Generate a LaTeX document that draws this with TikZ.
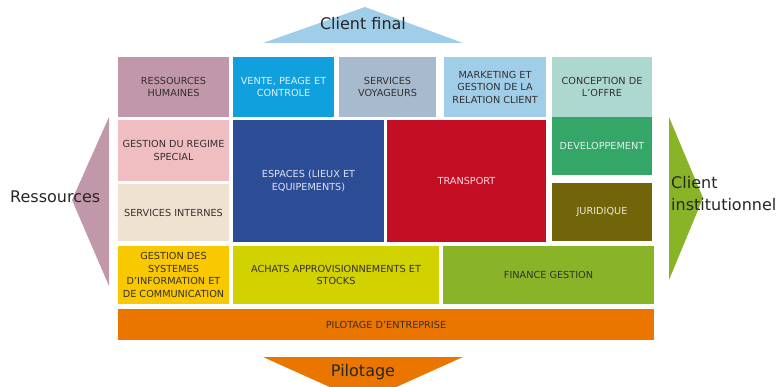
\documentclass[tikz,border=0pt]{standalone}
\usepackage{fontspec}
\setmainfont{DejaVu Sans}

% Couleurs des blocs
\definecolor{rh}{RGB}{193,151,170}
\definecolor{vente}{RGB}{16,160,222}
\definecolor{voyageurs}{RGB}{168,186,206}
\definecolor{marketing}{RGB}{160,206,232}
\definecolor{conception}{RGB}{172,216,208}
\definecolor{regime}{RGB}{240,190,192}
\definecolor{internes}{RGB}{240,226,208}
\definecolor{espaces}{RGB}{44,76,150}
\definecolor{transport}{RGB}{196,14,36}
\definecolor{devel}{RGB}{52,166,104}
\definecolor{juridique}{RGB}{114,100,8}
\definecolor{sysinfo}{RGB}{250,200,0}
\definecolor{achats}{RGB}{210,210,0}
\definecolor{finance}{RGB}{138,180,40}
\definecolor{pilot}{RGB}{234,118,0}
\definecolor{texte}{RGB}{52,48,48}

\begin{document}
\begin{tikzpicture}[x=1pt,y=-1pt,
  bloc/.style={rectangle,inner sep=0pt,align=center,text=texte,
    font=\fontsize{9.7}{12.5}\selectfont},
  fonce/.style={text=white,text opacity=0.85},
  titre/.style={inner sep=0pt,text=black!85,font=\fontsize{16}{22}\selectfont}]
\useasboundingbox (0,0) rectangle (783,387);

% Fleches exterieures
\fill[marketing] (263,43) -- (365,7) -- (463,43) -- cycle;
\fill[rh] (109,117) -- (72,200) -- (109,286) -- cycle;
\fill[finance] (669,117) -- (703,198) -- (669,280) -- cycle;
\fill[pilot] (263,357) -- (463,357) -- (363,402) -- cycle;

% Ligne 1
\node[bloc,fill=rh,minimum width=111pt,minimum height=60pt] (rh) at (173.5,87) {RESSOURCES\\HUMAINES};
\node[bloc,fonce,fill=vente,minimum width=101pt,minimum height=60pt] (vente) at (283.5,87) {VENTE, PEAGE ET\\CONTROLE};
\node[bloc,fill=voyageurs,minimum width=97pt,minimum height=60pt] (voyageurs) at (387.5,87) {SERVICES\\VOYAGEURS};
\node[bloc,fill=marketing,minimum width=102pt,minimum height=60pt] (marketing) at (495,87) {MARKETING ET\\GESTION DE LA\\RELATION CLIENT};
\node[bloc,fill=conception,minimum width=100pt,minimum height=60pt] (conception) at (602,87) {CONCEPTION DE\\L'OFFRE};

% Ligne 2
\node[bloc,fill=regime,minimum width=111pt,minimum height=61pt] (regime) at (173.5,150.5) {GESTION DU REGIME\\SPECIAL};
\node[bloc,fill=internes,minimum width=111pt,minimum height=57pt] (internes) at (173.5,212.5) {SERVICES INTERNES};
\node[bloc,fonce,fill=espaces,minimum width=151pt,minimum height=122pt] (espaces) at (308.5,181) {ESPACES (LIEUX ET\\EQUIPEMENTS)};
\node[bloc,fonce,fill=transport,minimum width=159pt,minimum height=122pt] (transport) at (466.5,181) {TRANSPORT};
\node[bloc,fonce,fill=devel,minimum width=100pt,minimum height=58pt] (devel) at (602,146) {DEVELOPPEMENT};
\node[bloc,fonce,fill=juridique,minimum width=100pt,minimum height=58pt] (juridique) at (602,212) {JURIDIQUE};

% Ligne 3
\node[bloc,fill=sysinfo,minimum width=111pt,minimum height=58pt] (sysinfo) at (173.5,275) {GESTION DES\\SYSTEMES\\D'INFORMATION ET\\DE COMMUNICATION};
\node[bloc,fill=achats,minimum width=206pt,minimum height=58pt] (achats) at (336,275) {ACHATS APPROVISIONNEMENTS ET\\STOCKS};
\node[bloc,fill=finance,minimum width=211pt,minimum height=58pt] (finance) at (548.5,275) {FINANCE GESTION};

% Pilotage
\node[bloc,fill=pilot,minimum width=536pt,minimum height=31pt] (pilotage) at (386,324.5) {PILOTAGE D'ENTREPRISE};

% Libelles
\node[titre] (clientfinal) at (363,24) {Client final};
\node[titre,anchor=west] (ressources) at (10,197) {Ressources};
\node[titre,anchor=west,align=left] (institutionnel) at (671,194) {Client\\institutionnel};
\node[titre] (pilotlabel) at (363,372) {Pilotage};
\end{tikzpicture}
\end{document}
